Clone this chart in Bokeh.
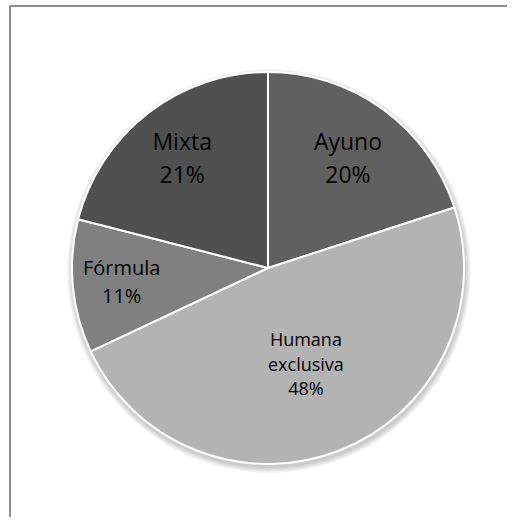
import math
from bokeh.plotting import figure
from bokeh.models import Range1d, ColumnDataSource
from bokeh.core.properties import value
from bokeh.embed import file_html
from bokeh.resources import INLINE

# ---- data ----
categories = ["Ayuno", "Humana\nexclusiva", "Fórmula", "Mixta"]
percents = [20, 48, 11, 21]
colors = ["#606060", "#b3b3b3", "#808080", "#505050"]

# ---- layout ----
W, H = 507, 517
cx, cy, R = 267.5, H - 267.5, 196
label_r = [136, 103, 147, 140]
label_size = ["23px", "18px", "20px", "23px"]

total = float(sum(percents))
starts, ends, mids = [], [], []
acc = 0.0
for v in percents:
    a0 = math.radians(90 - 360 * acc / total)
    acc += v
    a1 = math.radians(90 - 360 * acc / total)
    starts.append(a0)
    ends.append(a1)
    mids.append((a0 + a1) / 2)

labels = [f"{c}\n{v}%" for c, v in zip(categories, percents)]
lx = [cx + lr * math.cos(m) for lr, m in zip(label_r, mids)]
ly = [cy + lr * math.sin(m) for lr, m in zip(label_r, mids)]

p = figure(width=W, height=H, x_range=Range1d(0, W), y_range=Range1d(0, H),
           min_border=0, toolbar_location=None, output_backend="svg")
p.axis.visible = False
p.grid.visible = False
p.outline_line_color = None
p.background_fill_color = "white"

# frame lines (left and top)
p.segment(x0=[9.5, 9.5], y0=[0, H - 5.5], x1=[9.5, W], y1=[H - 5.5, H - 5.5],
          line_color="#8c8c8c", line_width=2)

# soft shadow
for k in range(1, 7):
    p.circle(x=[cx + 1], y=[cy - 3], radius=R + k, fill_color="black",
             fill_alpha=0.035, line_color=None)

src = ColumnDataSource(dict(start=starts, end=ends, color=colors))
p.wedge(x=cx, y=cy, radius=R, start_angle="start", end_angle="end",
        direction="clock", fill_color="color", line_color="white",
        line_width=2, source=src)

for t, x, y, s in zip(labels, lx, ly, label_size):
    p.text(x=[x], y=[y], text=[t], text_align="center", text_baseline="middle",
           text_font=value("Open Sans"), text_font_size=s, text_color="black",
           text_line_height=1.03)

open("out.html", "w").write(file_html(p, INLINE))
